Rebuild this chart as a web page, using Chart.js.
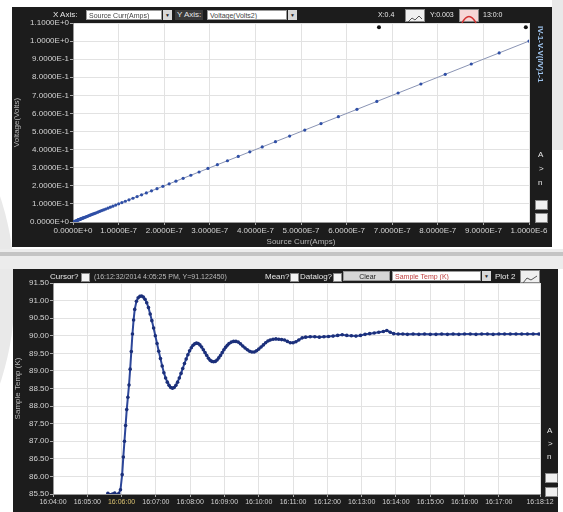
<!DOCTYPE html>
<html>
<head>
<meta charset="utf-8">
<script src="https://cdn.jsdelivr.net/npm/chart.js@4"></script>
<style>
  body { margin: 0; width: 563px; height: 512px; overflow: hidden; background: #fff; position: relative; font-family: 'Liberation Sans', Arial, sans-serif; }
  .bg { position: absolute; background: #e9e9e9; }
  .panel { position: absolute; background: #1c1c1c; }
  .panel canvas { position: absolute; left: 0; top: 0; }
  .lbl { position: absolute; color: #e8e8e8; font-size: 8px; line-height: 10px; white-space: nowrap; z-index: 2; }
  .box { position: absolute; background: #fff; color: #444; font-size: 7px; line-height: 10px; height: 10px; padding-left: 2px; box-sizing: border-box; border: 1px solid #999; white-space: nowrap; overflow: hidden; z-index: 2; }
  .arrow { position: absolute; background: #d8d8d8; color: #222; font-size: 5px; line-height: 10px; height: 10px; width: 9px; text-align: center; z-index: 2; }
  .chk { position: absolute; width: 7px; height: 7px; background: #f4f4f4; border: 1px solid #888; z-index: 2; }
  .icon { position: absolute; background: #f0f0f0; border: 1px solid #888; z-index: 2; }
  .vtext { position: absolute; writing-mode: vertical-rl; color: #9ec3ec; font-size: 8px; font-weight: bold; z-index: 2; }
</style>
</head>
<body>
<div class="bg" style="left:-330px;top:60px;width:345px;height:460px;border-radius:50%"></div>
<div class="bg" style="left:552px;top:0;width:11px;height:150px"></div>
<div class="bg" style="left:0;top:249px;width:563px;height:20px;background:#ececec"></div>
<div class="bg" style="left:0;top:252px;width:563px;height:4px;background:#c4c4c4"></div>

<div class="panel" style="left:12px;top:7px;width:540px;height:240px"><canvas id="ivChart" width="540" height="240"></canvas></div>
<div class="panel" style="left:13px;top:269px;width:545px;height:243px"><canvas id="tempChart" width="545" height="243"></canvas></div>

<!-- top panel controls -->
<div class="lbl" style="left:53px;top:10px">X Axis:</div>
<div class="box" style="left:86px;top:10px;width:76px">Source Curr(Amps)</div>
<div class="arrow" style="left:163px;top:10px">&#9660;</div>
<div class="lbl" style="left:175px;top:10px;background:#3a3a3a;padding:0 2px">Y Axis:</div>
<div class="box" style="left:207px;top:10px;width:80px">Voltage(Volts2)</div>
<div class="arrow" style="left:288px;top:10px">&#9660;</div>
<div class="lbl" style="left:378px;top:10px;font-size:7px">X:0.4</div>
<div class="icon" style="left:405px;top:9px;width:18px;height:11px">
  <svg width="18" height="11"><polyline points="2,9 6,5 9,7 13,3 16,6" fill="none" stroke="#555" stroke-width="1"/></svg>
</div>
<div class="lbl" style="left:430px;top:10px;font-size:7px">Y:0.003</div>
<div class="icon" style="left:459px;top:9px;width:18px;height:11px;background:#f6d6d6">
  <svg width="18" height="11"><path d="M2,10 Q9,-3 16,10" fill="none" stroke="#d03030" stroke-width="1.5"/></svg>
</div>
<div class="lbl" style="left:483px;top:10px;font-size:7px">13:0:0</div>
<div class="vtext" style="left:536px;top:26px">IV-1-V-V(I/V)1-1</div>
<div class="lbl" style="left:538px;top:150px">A</div>
<div class="lbl" style="left:539px;top:164px">&gt;</div>
<div class="lbl" style="left:538px;top:178px">n</div>
<div class="icon" style="left:535px;top:200px;width:11px;height:8px"></div>
<div class="icon" style="left:535px;top:213px;width:11px;height:8px"></div>

<!-- bottom panel controls -->
<div class="lbl" style="left:50px;top:272px">Cursor?</div>
<div class="chk" style="left:81px;top:273px"></div>
<div class="lbl" style="left:94px;top:272px;font-size:7px;color:#bbb">(16:12:32/2014 4:05:25 PM, Y=91.122450)</div>
<div class="lbl" style="left:265px;top:272px">Mean?</div>
<div class="chk" style="left:290px;top:273px"></div>
<div class="lbl" style="left:300px;top:272px">Datalog?</div>
<div class="chk" style="left:333px;top:273px"></div>
<div class="box" style="left:343px;top:271px;width:47px;background:#d6d6d6;color:#222;text-align:center">Clear</div>
<div class="box" style="left:392px;top:271px;width:89px;color:#c04040">Sample Temp (K)</div>
<div class="arrow" style="left:482px;top:271px">&#9660;</div>
<div class="lbl" style="left:495px;top:272px">Plot 2</div>
<div class="icon" style="left:520px;top:270px;width:18px;height:11px">
  <svg width="18" height="11"><polyline points="2,9 6,4 10,6 16,2" fill="none" stroke="#555" stroke-width="1"/></svg>
</div>
<div class="lbl" style="left:547px;top:426px">A</div>
<div class="lbl" style="left:548px;top:439px">&gt;</div>
<div class="lbl" style="left:547px;top:452px">n</div>
<div class="icon" style="left:545px;top:473px;width:11px;height:8px"></div>
<div class="icon" style="left:545px;top:487px;width:11px;height:8px"></div>

<script>
// I-V sweep (current in microamps, voltage in volts)
const sourceCurrentUA = [0, 0.002, 0.004, 0.006, 0.008, 0.0100, 0.0107, 0.0115, 0.0123, 0.0131, 0.0140, 0.0150,
  0.0161, 0.0172, 0.0184, 0.0197, 0.0211, 0.0226, 0.0242, 0.0259, 0.0277, 0.0296, 0.0317, 0.0339, 0.0363,
  0.0389, 0.0416, 0.0445, 0.0476, 0.0509, 0.0545, 0.0583, 0.0624, 0.0668, 0.0715, 0.0765, 0.0818, 0.0875,
  0.0937, 0.1002, 0.1072, 0.1147, 0.1228, 0.1314, 0.1406, 0.1504, 0.1609, 0.1722, 0.1842, 0.1971, 0.2109,
  0.2257, 0.2415, 0.2584, 0.2765, 0.2959, 0.3166, 0.3387, 0.3624, 0.3878, 0.4150, 0.4440, 0.4751, 0.5083,
  0.5439, 0.5820, 0.6227, 0.6663, 0.7130, 0.7629, 0.8163, 0.8734, 0.9346, 1.0000]
const voltage = [0, 0.002, 0.004, 0.006, 0.008, 0.0100, 0.0107, 0.0115, 0.0123, 0.0131, 0.0140, 0.0150,
  0.0161, 0.0172, 0.0184, 0.0197, 0.0211, 0.0226, 0.0242, 0.0259, 0.0277, 0.0296, 0.0317, 0.0339, 0.0363,
  0.0389, 0.0416, 0.0445, 0.0476, 0.0509, 0.0545, 0.0583, 0.0624, 0.0668, 0.0715, 0.0765, 0.0818, 0.0875,
  0.0937, 0.1002, 0.1072, 0.1147, 0.1228, 0.1314, 0.1406, 0.1504, 0.1609, 0.1722, 0.1842, 0.1971, 0.2109,
  0.2257, 0.2415, 0.2584, 0.2765, 0.2959, 0.3166, 0.3387, 0.3624, 0.3878, 0.4150, 0.4440, 0.4751, 0.5083,
  0.5439, 0.5820, 0.6227, 0.6663, 0.7130, 0.7629, 0.8163, 0.8734, 0.9346, 1.0000]
const cursorCurrentUA = [0.671, 0.993]
const cursorVoltage = [1.077, 1.077]

// temperature log (seconds after 16:04:00, kelvin)
const startClock = 16 * 3600 + 4 * 60
const elapsedSec = [96, 100, 104, 108, 112, 115, 118, 121, 123, 125, 127, 129, 131, 133, 135, 137, 139, 141,
  143, 146, 149, 152, 155, 158, 161, 164, 167, 170, 173, 176, 179, 182, 185, 188, 191, 194, 197, 200, 203,
  206, 209, 212, 215, 218, 221, 224, 227, 230, 233, 236, 239, 242, 245, 248, 251, 254, 257, 260, 263, 266,
  269, 272, 275, 278, 281, 284, 287, 290, 293, 296, 299, 302, 305, 308, 312, 316, 320, 324, 328, 332, 336,
  340, 344, 348, 352, 356, 360, 364, 368, 372, 376, 380, 385, 390, 395, 400, 405, 410, 415, 420, 425, 430,
  436, 442, 450, 458, 466, 474, 482, 490, 498, 506, 514, 522, 530, 538, 546, 554, 562, 570, 578, 584, 590,
  596, 604, 612, 620, 630, 640, 650, 660, 670, 680, 690, 700, 710, 720, 730, 740, 750, 760, 770, 780, 790,
  800, 810, 820, 830, 840, 850]
const sampleTempK = [85.52, 85.48, 85.50, 85.53, 85.47, 85.51, 85.62, 86.05, 86.55, 87.00, 87.45, 87.90, 88.25,
  88.60, 89.05, 89.55, 90.05, 90.45, 90.75, 90.98, 91.08, 91.12, 91.13, 91.10, 91.04, 90.94, 90.80, 90.62,
  90.43, 90.22, 90.00, 89.78, 89.56, 89.35, 89.14, 88.95, 88.80, 88.68, 88.59, 88.53, 88.51, 88.53, 88.59,
  88.68, 88.80, 88.93, 89.07, 89.21, 89.34, 89.46, 89.57, 89.66, 89.73, 89.77, 89.79, 89.78, 89.74, 89.68,
  89.60, 89.52, 89.44, 89.36, 89.30, 89.27, 89.26, 89.27, 89.31, 89.37, 89.44, 89.52, 89.60, 89.67, 89.73,
  89.78, 89.82, 89.84, 89.84, 89.82, 89.77, 89.71, 89.65, 89.60, 89.56, 89.54, 89.54, 89.57, 89.62, 89.68,
  89.74, 89.80, 89.85, 89.88, 89.90, 89.91, 89.90, 89.89, 89.88, 89.84, 89.80, 89.80, 89.83, 89.88, 89.94,
  89.96, 89.97, 89.97, 89.96, 89.97, 89.98, 89.99, 90.01, 90.03, 90.01, 90.00, 89.99, 90.01, 90.04, 90.06,
  90.08, 90.10, 90.12, 90.15, 90.10, 90.06, 90.05, 90.05, 90.04, 90.05, 90.04, 90.05, 90.04, 90.04, 90.05,
  90.04, 90.05, 90.04, 90.05, 90.05, 90.04, 90.05, 90.05, 90.04, 90.05, 90.05, 90.05, 90.05, 90.05, 90.05,
  90.05, 90.05]
const timeTicks = [0, 60, 120, 180, 240, 300, 360, 420, 480, 540, 600, 660, 720, 780, 852]

const plotBg = {
  id: 'plotBg',
  beforeDraw (chart) {
    const { ctx, chartArea: a } = chart
    ctx.save()
    ctx.fillStyle = '#fff'
    ctx.fillRect(a.left, a.top, a.right - a.left, a.bottom - a.top)
    ctx.restore()
  }
}

const tickFont = { family: "'Liberation Sans', Arial, sans-serif", size: 8 }
const gridStyle = { color: '#e2e2e2', tickColor: '#aaa', tickLength: 3 }

function toXY (xs, ys) {
  return xs.map((x, i) => ({ x: x, y: ys[i] }))
}

function clockLabel (sec) {
  const t = startClock + Math.round(sec)
  const pad = n => String(n).padStart(2, '0')
  return pad(Math.floor(t / 3600)) + ':' + pad(Math.floor(t / 60) % 60) + ':' + pad(t % 60)
}

Chart.defaults.animation = false

new Chart(document.getElementById('ivChart'), {
  type: 'scatter',
  data: {
    datasets: [
      {
        label: 'Voltage',
        data: toXY(sourceCurrentUA, voltage),
        showLine: true,
        borderColor: '#8a94b4',
        borderWidth: 1,
        pointRadius: 1.6,
        pointBackgroundColor: '#2f4fa6',
        pointBorderWidth: 0
      },
      {
        label: 'Cursor',
        data: toXY(cursorCurrentUA, cursorVoltage),
        pointRadius: 2,
        pointBackgroundColor: '#111',
        pointBorderWidth: 0
      }
    ]
  },
  options: {
    responsive: false,
    devicePixelRatio: 1,
    layout: { padding: { top: 16, right: 23, left: 0, bottom: 0 } },
    plugins: { legend: { display: false }, tooltip: { enabled: false } },
    scales: {
      x: {
        type: 'linear',
        min: 0,
        max: 1,
        afterFit: s => { s.height = 25 },
        grid: gridStyle,
        border: { color: '#999' },
        ticks: {
          stepSize: 0.1,
          padding: 1,
          maxRotation: 0,
          color: '#d4d4d4',
          font: tickFont,
          callback: v => (v * 1e-6).toExponential(4).toUpperCase()
        },
        title: { display: true, text: 'Source Curr(Amps)', color: '#b8b8b8', font: tickFont, padding: 0 }
      },
      y: {
        min: 0,
        max: 1.1,
        afterFit: s => { s.width = 61 },
        grid: gridStyle,
        border: { color: '#999' },
        ticks: {
          stepSize: 0.1,
          padding: 1,
          color: '#d4d4d4',
          font: tickFont,
          callback: v => Number(v).toExponential(4).toUpperCase()
        },
        title: { display: true, text: 'Voltage(Volts)', color: '#b8b8b8', font: tickFont, padding: 0 }
      }
    }
  },
  plugins: [plotBg]
})

new Chart(document.getElementById('tempChart'), {
  type: 'scatter',
  data: {
    datasets: [
      {
        label: 'Sample Temp (K)',
        data: toXY(elapsedSec, sampleTempK),
        showLine: true,
        borderColor: '#2c4699',
        borderWidth: 2,
        pointRadius: 1.8,
        pointBackgroundColor: '#1b2f7a',
        pointBorderWidth: 0
      }
    ]
  },
  options: {
    responsive: false,
    devicePixelRatio: 1,
    layout: { padding: { top: 14, right: 18, left: 0, bottom: 0 } },
    plugins: { legend: { display: false }, tooltip: { enabled: false } },
    scales: {
      x: {
        type: 'linear',
        min: 0,
        max: 852,
        afterFit: s => { s.height = 18 },
        afterBuildTicks: s => { s.ticks = timeTicks.map(v => ({ value: v })) },
        grid: gridStyle,
        border: { color: '#999' },
        ticks: {
          autoSkip: false,
          maxRotation: 0,
          padding: 1,
          font: { family: tickFont.family, size: 7 },
          color: ctx => ctx.index === 2 ? '#d8c070' : '#d0d0d0',
          callback: v => clockLabel(v)
        }
      },
      y: {
        min: 85.5,
        max: 91.5,
        afterFit: s => { s.width = 40 },
        grid: gridStyle,
        border: { color: '#999' },
        ticks: {
          stepSize: 0.5,
          padding: 1,
          color: '#d4d4d4',
          font: tickFont,
          callback: v => Number(v).toFixed(2)
        },
        title: { display: true, text: 'Sample Temp (K)', color: '#b8b8b8', font: tickFont, padding: 0 }
      }
    }
  },
  plugins: [plotBg]
})
</script>
</body>
</html>
